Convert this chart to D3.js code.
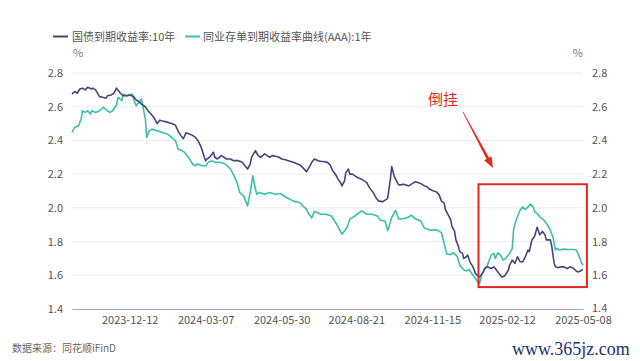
<!DOCTYPE html>
<html><head><meta charset="utf-8">
<script src="https://cdn.jsdelivr.net/npm/d3@7"></script>
<style>
body{margin:0;background:#fff}
svg{display:block;font-family:"Noto Sans CJK SC","Noto Sans",sans-serif}
</style>
</head><body>
<svg id="c" width="640" height="361"></svg>
<script>
// ---- data ----
const seriesNames = ["国债到期收益率:10年", "同业存单到期收益率曲线(AAA):1年"];
// trading-session index (0 = first session shown) and yields (%)
const cgbIdx = [0,2,4,6,8,10,12,15,16,18,21,24,26,27,30,32,34,37,39,42,44,47,49,51,53,56,58,60,63,65,67,69,72,74,76,79,81,83,85,87,89,92,94,96,98,99,101,102,103,105,106,108,109,111,114,116,118,121,123,125,127,130,132,134,136,137,140,142,144,147,149,151,153,156,158,160,163,165,167,169,172,174,176,179,181,183,185,188,190,192,195,197,199,201,203,205,206,208,209,211,212,214,216,218,221,223,225,227,230,232,234,235,237,240,241,243,244,246,247,249,250,253,255,257,260,262,264,266,269,271,273,276,278,280,282,284,285,287,289,290,292,293,295,296,298,299,301,302,304,306,308,310,311,314,315,317,320,322,324,327,328,330,333,334,336,338,340,342,344,346,348,349,351,353,355,357,359,361,362,365,366,368,369,371,373,375,378,380,382,385,386,388,390];
const cgb10y = [2.675,2.69,2.68,2.705,2.71,2.70,2.715,2.705,2.71,2.70,2.66,2.655,2.65,2.665,2.67,2.68,2.71,2.68,2.665,2.665,2.67,2.66,2.64,2.63,2.615,2.60,2.575,2.56,2.53,2.50,2.52,2.515,2.51,2.505,2.50,2.49,2.455,2.43,2.41,2.445,2.44,2.43,2.42,2.40,2.37,2.35,2.30,2.28,2.29,2.30,2.31,2.33,2.30,2.29,2.31,2.30,2.29,2.29,2.28,2.28,2.28,2.27,2.25,2.23,2.26,2.30,2.34,2.31,2.30,2.32,2.31,2.30,2.31,2.305,2.30,2.29,2.285,2.28,2.275,2.27,2.26,2.255,2.24,2.215,2.24,2.27,2.29,2.28,2.275,2.275,2.27,2.255,2.22,2.20,2.17,2.15,2.13,2.16,2.21,2.23,2.20,2.20,2.19,2.18,2.17,2.16,2.15,2.12,2.09,2.06,2.04,2.04,2.036,2.05,2.06,2.17,2.245,2.185,2.17,2.14,2.135,2.14,2.135,2.13,2.145,2.155,2.15,2.145,2.13,2.125,2.11,2.10,2.095,2.08,2.04,2.03,1.99,1.96,1.93,1.89,1.86,1.81,1.77,1.74,1.73,1.70,1.71,1.72,1.675,1.65,1.61,1.595,1.59,1.62,1.64,1.65,1.64,1.65,1.63,1.60,1.59,1.595,1.63,1.66,1.69,1.67,1.71,1.68,1.68,1.71,1.75,1.74,1.81,1.83,1.885,1.84,1.86,1.84,1.81,1.81,1.78,1.67,1.65,1.645,1.65,1.65,1.64,1.65,1.645,1.625,1.62,1.625,1.635];
const ncdIdx = [0,2,5,7,8,10,12,14,15,18,21,24,27,29,31,34,35,38,39,42,44,46,47,49,50,52,53,54,56,57,59,61,65,69,73,76,79,81,84,86,89,92,94,96,99,102,104,107,109,113,117,121,123,126,128,131,134,136,138,140,141,143,147,151,155,159,164,169,172,174,176,179,180,183,185,188,190,194,198,202,206,210,212,216,221,225,229,233,235,239,241,244,247,249,250,253,257,259,262,266,269,273,278,282,283,286,289,291,294,296,299,301,303,306,309,311,313,315,317,320,322,323,325,327,329,331,334,336,337,339,342,344,346,348,350,352,353,355,357,360,363,365,367,369,370,372,375,379,383,385,387,389,390];
const ncd1y = [2.447,2.477,2.487,2.527,2.576,2.566,2.576,2.556,2.576,2.566,2.576,2.596,2.576,2.566,2.576,2.61,2.655,2.636,2.675,2.665,2.67,2.675,2.646,2.606,2.616,2.636,2.646,2.606,2.527,2.418,2.457,2.467,2.457,2.447,2.437,2.418,2.398,2.349,2.339,2.329,2.299,2.26,2.25,2.26,2.25,2.25,2.27,2.279,2.27,2.27,2.26,2.23,2.20,2.15,2.091,2.071,2.012,2.091,2.19,2.11,2.081,2.091,2.081,2.091,2.081,2.085,2.06,2.04,2.035,2.03,2.012,1.992,1.972,1.94,1.98,1.97,1.962,1.962,1.952,1.903,1.844,1.883,1.933,1.952,1.982,1.962,1.962,1.952,1.93,1.92,1.865,1.943,1.985,1.938,1.933,1.935,1.945,1.957,1.935,1.923,1.88,1.868,1.87,1.853,1.82,1.727,1.722,1.735,1.712,1.66,1.633,1.626,1.635,1.60,1.57,1.55,1.611,1.64,1.66,1.72,1.73,1.70,1.733,1.72,1.69,1.70,1.73,1.759,1.868,1.928,1.987,2.006,1.99,2.006,2.022,2.006,1.977,1.967,1.947,1.928,1.898,1.868,1.829,1.75,1.76,1.75,1.755,1.753,1.753,1.75,1.714,1.671,1.66];
const tickIdx = [44,102,160,217,275,332,390];
const tickLabels = ["2023-12-12","2024-03-07","2024-05-30","2024-08-21","2024-11-15","2025-02-12","2025-05-08"];
const yTicks = [1.4,1.6,1.8,2.0,2.2,2.4,2.6,2.8];
const annotationText = "倒挂";
const sourceText = "数据来源：同花顺iFinD";
const watermarkText = "www.365jz.com";
// highlighted window (session index, yield)
const boxIdx = [311, 393];
const boxVal = [1.53, 2.14];

// ---- drawing ----
const svg = d3.select("#c");
const colors = ["#46467f", "#3cbfa8"];
const x = d3.scaleLinear().domain([0, 390]).range([72, 583]);
const y = d3.scaleLinear().domain([1.4, 2.8]).range([309, 73]);

// grid
svg.append("g").selectAll("line").data(yTicks.filter(d => d > 1.4)).join("line")
  .attr("x1", x(0)).attr("x2", x(390))
  .attr("y1", d => y(d)).attr("y2", d => y(d))
  .attr("stroke", "#ececec").attr("stroke-width", 1);

// axes
const fmt = d3.format(".1f");
const gl = svg.append("g").attr("transform", `translate(${x(0)},0)`)
  .call(d3.axisLeft(y).tickValues(yTicks).tickFormat(fmt).tickSize(0).tickPadding(9));
const gr = svg.append("g").attr("transform", `translate(${x(390)},0)`)
  .call(d3.axisRight(y).tickValues(yTicks).tickFormat(fmt).tickSize(0).tickPadding(9));
const gb = svg.append("g").attr("transform", `translate(0,${y(1.4)})`)
  .call(d3.axisBottom(x).tickValues(tickIdx).tickFormat((d, i) => tickLabels[i]).tickSize(0).tickPadding(7));
[gl, gr].forEach(g => g.select(".domain").remove());
gb.select(".domain").attr("stroke", "#a8a8a8");
svg.selectAll(".tick text").attr("fill", "#555").style("font-size", "11px")
  .style("font-family", '"Noto Sans CJK SC","Noto Sans",sans-serif');
gb.selectAll(".tick text").attr("text-anchor", "middle");
// nudge the right-hand 1.4 label slightly up so it clears the last date
gr.selectAll(".tick").filter(d => d === 1.4).select("text").attr("dy", "0.2em");

// unit labels
svg.append("text").attr("x", 73).attr("y", 57).text("%").attr("fill", "#777").style("font-size", "11px");
svg.append("text").attr("x", 583).attr("y", 57).attr("text-anchor", "end").text("%").attr("fill", "#777").style("font-size", "11px");

// lines
const line = d3.line().x(d => x(d[0])).y(d => y(d[1]));
const s1 = cgbIdx.map((d, i) => [d, cgb10y[i]]);
const s2 = ncdIdx.map((d, i) => [d, ncd1y[i]]);
svg.append("path").datum(s2).attr("d", line).attr("fill", "none")
  .attr("stroke", colors[1]).attr("stroke-width", 1.6).attr("stroke-linejoin", "round");
svg.append("path").datum(s1).attr("d", line).attr("fill", "none")
  .attr("stroke", colors[0]).attr("stroke-width", 1.6).attr("stroke-linejoin", "round");

// legend
const lg = svg.append("g");
[[53, 72], [185, 203]].forEach((p, i) => {
  lg.append("line").attr("x1", p[0]).attr("x2", p[0] + 15).attr("y1", 36.5).attr("y2", 36.5)
    .attr("stroke", colors[i]).attr("stroke-width", 2);
  lg.append("text").attr("x", p[1]).attr("y", 40.5).text(seriesNames[i])
    .attr("fill", "#555").style("font-size", "11px");
});

// highlight box and arrow
svg.append("rect").attr("x", x(boxIdx[0]) - 1).attr("y", y(boxVal[1]))
  .attr("width", x(boxIdx[1]) - x(boxIdx[0]) + 1).attr("height", y(boxVal[0]) - y(boxVal[1]))
  .attr("fill", "none").attr("stroke", "#e02822").attr("stroke-width", 2);
svg.append("text").attr("x", 443).attr("y", 105).attr("text-anchor", "middle")
  .text(annotationText).attr("fill", "#e02822").style("font-size", "15px");
// tapered arrow from text to box
(function(){
  const x0 = 463, y0 = 112, x1 = 493, y1 = 168;
  const dx = x1 - x0, dy = y1 - y0, L = Math.hypot(dx, dy);
  const ux = dx / L, uy = dy / L, nx = -uy, ny = ux;
  const hb = L - 11; // head base
  const bx = x0 + ux * hb, by = y0 + uy * hb;
  const w0 = 0.3, w1 = 1.4, hw = 4.2;
  const pts = [
    [x0 + nx * w0, y0 + ny * w0], [bx + nx * w1, by + ny * w1], [bx + nx * hw, by + ny * hw],
    [x1, y1], [bx - nx * hw, by - ny * hw], [bx - nx * w1, by - ny * w1], [x0 - nx * w0, y0 - ny * w0]
  ];
  svg.append("path").attr("d", "M" + pts.map(p => p.join(",")).join("L") + "Z").attr("fill", "#e02822");
})();

// source and watermark
svg.append("text").attr("x", 12).attr("y", 352).text(sourceText).attr("fill", "#666").style("font-size", "10px");
svg.append("text").attr("x", 512).attr("y", 355).text(watermarkText).attr("fill", "#22336f")
  .style("font-size", "18px").style("font-family", '"Liberation Serif","DejaVu Serif",serif');
</script>
</body></html>
